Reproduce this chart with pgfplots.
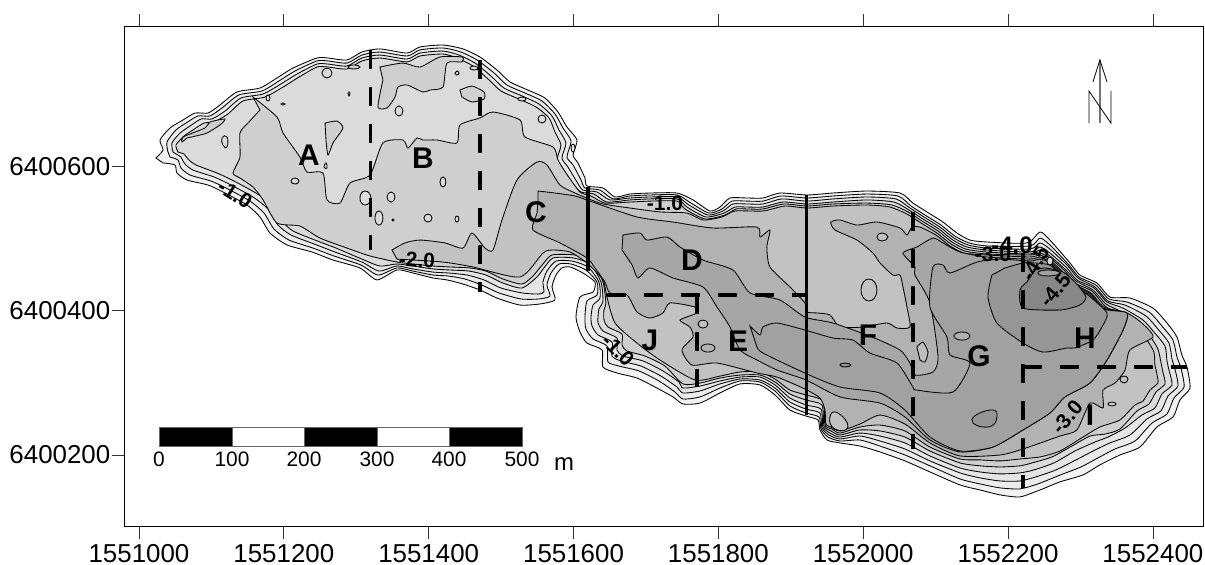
\documentclass[border=0pt]{standalone}
\usepackage{pgfplots}
\pgfplotsset{compat=1.18}
\usepackage{fontspec}
\setmainfont{Liberation Sans}
\newcommand\C[2]{\addplot[fill=#1,draw=black,line width=.85bp,smooth,tension=.4,forget plot] coordinates {#2} -- cycle;}
\newcommand\OV[2]{\addplot[fill=#1,draw=black,line width=.85bp,smooth cycle,tension=1,forget plot] coordinates {#2};}
\newcommand\DL[1]{\addplot[black,line width=3.3bp,dash pattern=on 19bp off 18bp,forget plot] coordinates {#1};}
\newcommand\SL[1]{\addplot[black,line width=3.3bp,forget plot] coordinates {#1};}
\newcommand\BX[2]{\addplot[fill=#1,draw=black!60,line width=.6bp,forget plot] coordinates {#2} -- cycle;}
\newcommand\T[5]{\node[rotate=#3,inner sep=0pt,font=\fontsize{#4}{#4}\selectfont] at ({#1bp-124.5bp},{526bp-#2bp}) {#5};}
\newcommand\D[5]{\node[rotate=#3,inner sep=0pt,font=\fontsize{#4}{#4}\selectfont\bfseries] at ({#1bp-124.5bp},{526bp-#2bp}) {#5};}
\newcommand\B[3]{\node[inner sep=0pt,font=\fontsize{30}{30}\selectfont\bfseries] at ({#1bp-124.5bp},{526bp-#2bp}) {#3};}
\begin{document}
\begin{tikzpicture}
\useasboundingbox (-124.5bp,-39bp) rectangle (1080.5bp,526bp);
\begin{axis}[
  at={(0,0)},anchor=south west,scale only axis,width=1079.5bp,height=499bp,
  x filter/.expression={1551000+(x-139)*1.38074},
  y filter/.expression={6400200+(455-y)*1.3865},
  xmin=1550979.98,xmax=1552470.5,ymin=6400101.56,ymax=6400793.4,
  scaled ticks=false,
  xtick={1551000,1551200,1551400,1551600,1551800,1552000,1552200,1552400},
  xticklabels={1551000,1551200,1551400,1551600,1551800,1552000,1552200,1552400},
  ytick={6400200,6400400,6400600},
  yticklabels={6400200,6400400,6400600},
  tick align=outside,major tick length=13bp,xtick pos=both,ytick pos=left,
  tick style={black!80,line width=.8bp},
  axis line style={black,line width=1bp},
  tick label style={font=\fontsize{26}{26}\selectfont},
  xticklabel style={inner sep=0pt,yshift=-5bp},
  yticklabel style={inner sep=0pt,xshift=-1bp},
  clip=false,
]
% shore
\C{black!5}{(156,158)(163,150)(160,140)(170,128)(183,120)(195,113)(208,113)(220,105)(237,92)(260,88)(277,78)(293,68)(317,58)(328,58)(347,60)(362,52)(380,49)(407,53)(420,47)(443,45)(463,49)(480,57)(497,70)(510,82)(528,90)(545,98)(558,112)(567,127)(577,140)(573,155)(578,163)(585,178)(587,186)(603,188)(615,197)(630,194)(650,193)(677,193)(693,200)(710,211)(720,207)(730,198)(747,198)(763,198)(780,193)(807,195)(833,193)(867,191)(900,193)(913,203)(927,212)(943,222)(957,233)(970,240)(987,242)(1027,243)(1040,232)(1050,240)(1070,263)(1080,275)(1097,283)(1110,297)(1130,298)(1153,308)(1167,323)(1177,337)(1182,355)(1187,367)(1190,388)(1180,400)(1173,417)(1157,427)(1140,447)(1120,455)(1100,465)(1083,475)(1060,482)(1040,490)(1020,497)(1000,495)(980,490)(960,485)(930,472)(905,461)(880,452)(860,446)(840,443)(827,440)(820,430)(818,420)(806,416)(790,410)(775,395)(760,385)(740,384)(720,393)(700,403)(683,404)(673,397)(657,388)(637,378)(617,373)(603,367)(602,350)(587,343)(580,332)(576,317)(580,297)(593,292)(595,282)(583,273)(570,267)(562,268)(556,275)(552,287)(555,300)(540,304)(520,305)(497,298)(480,290)(463,284)(447,280)(433,278)(413,273)(397,270)(377,280)(360,268)(333,260)(312,252)(287,245)(270,233)(260,217)(247,205)(223,192)(208,185)(187,180)(177,173)(175,165)(163,163)}
\C{black!8}{(168,152)(167,142)(176,130)(186,123)(198,116)(210,116)(222,108)(239,95)(262,91)(279,81)(295,71)(317,61)(328,61)(347,63)(362,55)(380,52)(407,56)(420,50)(443,48)(461,52)(477,60)(494,73)(507,85)(525,93)(542,101)(555,114)(563,128)(571,141)(567,157)(573,165)(581,180)(585,188)(600,190)(613,199)(630,196)(650,195)(677,195)(691,203)(709,213)(722,209)(732,201)(747,201)(763,201)(781,196)(807,198)(833,196)(867,194)(898,196)(911,206)(925,215)(941,225)(955,236)(969,243)(987,246)(1030,246)(1040,238)(1050,245)(1069,265)(1079,277)(1096,285)(1109,299)(1127,302)(1149,312)(1162,326)(1173,340)(1177,357)(1181,368)(1184,387)(1174,398)(1167,414)(1152,423)(1135,441)(1115,449)(1098,458)(1081,467)(1058,476)(1038,484)(1020,489)(1000,488)(980,484)(960,479)(930,466)(905,455)(880,446)(860,440)(840,441)(828,437)(821,429)(819,417)(806,413)(790,406)(775,391)(760,382)(740,381)(720,388)(700,397)(683,399)(675,392)(659,381)(639,371)(619,366)(608,362)(607,346)(593,339)(586,329)(585,317)(587,301)(597,295)(597,282)(586,270)(571,264)(559,264)(551,273)(547,285)(550,296)(539,299)(521,299)(499,293)(482,285)(465,279)(448,276)(433,275)(413,271)(397,268)(378,275)(361,265)(334,256)(313,248)(289,240)(274,229)(264,213)(250,201)(226,188)(211,181)(190,175)(181,168)(178,160)(170,157)}
\C{black!10}{(173,152)(172,143)(180,133)(190,126)(201,119)(212,119)(225,111)(241,98)(263,94)(281,84)(297,74)(317,64)(328,64)(347,66)(362,58)(380,55)(407,59)(420,53)(443,51)(459,55)(475,63)(491,76)(504,88)(522,96)(539,104)(552,116)(559,130)(566,143)(562,158)(568,167)(577,182)(583,190)(597,192)(610,200)(630,198)(650,197)(677,197)(689,205)(708,215)(723,211)(733,204)(747,204)(763,204)(782,199)(807,201)(833,199)(867,197)(896,199)(910,208)(924,217)(940,227)(954,238)(968,245)(987,248)(1030,249)(1040,243)(1050,249)(1068,266)(1078,278)(1095,287)(1108,301)(1125,305)(1146,316)(1158,329)(1169,343)(1172,359)(1175,369)(1178,386)(1168,396)(1161,411)(1147,419)(1130,435)(1110,443)(1095,450)(1078,459)(1056,470)(1036,477)(1020,481)(1000,481)(980,478)(960,473)(930,461)(905,449)(880,441)(860,436)(840,439)(829,435)(822,428)(820,413)(806,409)(790,402)(775,388)(760,380)(740,379)(720,384)(700,391)(683,393)(677,387)(661,376)(641,366)(621,361)(612,356)(612,342)(598,335)(592,326)(591,317)(593,305)(600,298)(599,282)(588,267)(572,261)(556,261)(547,271)(543,282)(544,292)(538,294)(522,293)(501,288)(484,280)(467,275)(449,273)(433,272)(413,269)(397,266)(379,271)(362,262)(335,252)(314,244)(291,235)(278,225)(268,209)(253,197)(229,184)(214,177)(193,170)(185,164)(181,157)}
\C{black!14}{(178,152)(176,145)(184,136)(193,130)(204,123)(214,122)(228,114)(243,101)(265,97)(283,87)(299,77)(317,67)(328,67)(347,69)(362,61)(380,58)(407,62)(420,56)(443,54)(457,58)(473,66)(488,79)(501,91)(519,99)(536,107)(549,118)(555,132)(561,145)(557,160)(563,169)(573,184)(581,192)(594,194)(607,202)(630,200)(650,199)(677,199)(687,207)(706,217)(724,213)(735,207)(747,207)(763,207)(783,202)(807,204)(833,202)(867,200)(894,202)(909,210)(923,219)(939,229)(953,240)(967,247)(987,250)(1030,252)(1040,247)(1050,253)(1067,268)(1077,280)(1094,288)(1107,302)(1123,308)(1143,320)(1154,332)(1165,346)(1167,361)(1169,370)(1172,385)(1162,394)(1155,408)(1142,415)(1125,428)(1108,437)(1095,442)(1075,451)(1054,463)(1034,470)(1020,473)(1000,474)(980,472)(960,468)(930,456)(905,443)(880,436)(860,433)(840,437)(830,433)(823,427)(821,409)(806,405)(790,398)(775,385)(760,377)(740,377)(720,381)(700,386)(683,388)(679,382)(663,371)(643,361)(623,356)(617,350)(617,338)(603,331)(598,323)(598,317)(599,309)(603,301)(601,282)(590,264)(573,258)(553,258)(544,268)(537,277)(522,288)(503,283)(486,275)(469,271)(450,270)(433,269)(413,266)(397,264)(380,266)(362,259)(336,248)(315,240)(293,231)(282,221)(272,205)(256,193)(232,180)(217,173)(196,165)(189,160)(184,154)}
% light-zone closed contours
\C{black!19}{(182,142)(183,137)(205,128)(210,122)(225,119)(220,125)(207,133)(200,135)(187,138)}
\OV{black!14}{(222,138)(227,137)(227,147)(223,145)}
\OV{black!14}{(322,73)(327,68)(332,73)(327,78)}
\OV{black!14}{(266,98)(268,95)(270,98)(268,101)}
\OV{black!14}{(281,104)(283,103)(285,104)(283,105)}
\OV{black!19}{(348,67)(354,65)(360,67)(354,69)}
\OV{black!19}{(348,94)(349,92)(350,94)(349,96)}
\C{black!19}{(380,67)(403,63)(420,67)(440,57)(462,57)(462,62)(447,63)(443,87)(430,90)(423,92)(407,85)(398,87)(395,97)(387,108)(378,107)(383,80)}
\OV{black!14}{(395,111)(399,106)(403,111)(399,116)}
\C{black!19}{(325,123)(337,121)(343,128)(333,143)(328,155)(326,140)}
\OV{black!14}{(455,73)(457,71)(459,73)(457,75)}
\OV{black!14}{(470,68)(474,66)(478,68)(474,70)}
\C{black!19}{(460,90)(472,86)(484,92)(484,99)(472,102)(462,97)}
\OV{black!14}{(518,99)(522,97)(526,99)(522,101)}
\OV{black!14}{(538,119)(542,115)(546,119)(542,123)}
\OV{black!14}{(517,143)(523,141)(521,146)}
\OV{black!10}{(571,148)(573,144)(575,148)(573,152)}
% depth zones
\C{black!19}{(253,97)(277,117)(283,133)(300,157)(307,172)(323,173)(327,200)(340,203)(350,183)(370,175)(383,143)(403,140)(408,148)(417,138)(423,140)(437,140)(457,143)(460,125)(480,118)(493,112)(520,120)(525,137)(553,147)(558,160)(566,173)(580,192)(591,196)(605,203)(630,202)(650,201)(677,201)(685,209)(705,219)(725,215)(736,209)(747,209)(763,209)(784,204)(807,206)(833,204)(867,203)(892,205)(908,212)(922,221)(938,231)(952,242)(966,249)(987,252)(1030,254)(1040,250)(1050,256)(1066,270)(1076,281)(1093,290)(1106,304)(1120,311)(1140,324)(1150,336)(1158,349)(1161,362)(1163,372)(1165,384)(1156,392)(1149,404)(1137,411)(1120,429)(1105,434)(1090,436)(1072,446)(1052,457)(1032,463)(1020,466)(1000,467)(980,466)(960,463)(930,451)(905,437)(880,431)(860,430)(840,435)(831,431)(824,426)(822,405)(806,400)(790,394)(775,382)(760,375)(740,375)(720,378)(700,383)(683,384)(665,366)(645,356)(627,351)(622,345)(622,334)(608,327)(604,320)(604,310)(606,303)(603,282)(592,261)(575,255)(552,255)(543,264)(533,276)(522,284)(503,279)(486,271)(470,268)(450,267)(433,266)(413,264)(397,262)(370,256)(347,248)(320,238)(300,226)(277,223)(263,200)(253,187)(240,178)(233,173)(240,157)(240,133)(248,123)(260,110)}
\OV{black!14}{(291,181)(295,178)(299,181)(295,184)}
\OV{black!14}{(324,167)(326,163)(327,168)}
\OV{black!14}{(360,198)(365,191)(371,198)(365,205)}
\OV{black!14}{(375,218)(379,211)(383,218)(379,225)}
\OV{black!14}{(387,197)(391,192)(395,197)(391,202)}
\OV{black!14}{(392,220)(393,219)(394,220)(393,221)}
\OV{black!14}{(424,218)(428,214)(432,218)(428,222)}
\OV{black!14}{(440,182)(443,177)(446,182)(443,187)}
\OV{black!14}{(455,219)(457,216)(459,219)(457,222)}
\C{black!24}{(392,250)(405,243)(420,240)(445,243)(463,248)(472,233)(485,248)(493,250)(502,220)(517,180)(537,162)(547,165)(560,185)(575,193)(589,199)(603,204)(630,208)(660,212)(687,213)(703,220)(722,217)(735,211)(763,211)(785,206)(807,208)(833,206)(867,205)(890,207)(907,214)(921,223)(937,233)(951,244)(965,251)(987,254)(1030,255)(1040,253)(1050,258)(1065,271)(1075,283)(1092,291)(1105,306)(1118,314)(1137,328)(1147,340)(1154,352)(1155,365)(1157,374)(1158,383)(1150,390)(1143,401)(1135,405)(1120,420)(1100,427)(1083,437)(1060,451)(1040,457)(1020,459)(1000,461)(980,460)(960,459)(930,447)(905,431)(880,425)(860,427)(840,433)(832,429)(825,425)(823,401)(806,395)(790,390)(775,379)(760,372)(740,372)(720,376)(695,380)(660,360)(637,343)(615,323)(607,297)(603,280)(587,263)(570,252)(552,250)(543,253)(520,277)(473,267)(443,262)(397,259)}
\OV{black!19}{(616,271)(617,267)(618,271)(617,275)}
\C{black!30}{(538,191)(555,193)(575,196)(590,201)(637,217)(673,222)(713,228)(757,227)(760,237)(770,230)(767,247)(770,267)(790,287)(805,303)(807,312)(817,313)(830,315)(840,327)(863,327)(887,323)(897,328)(910,327)(907,307)(903,287)(900,275)(893,275)(880,263)(873,253)(857,240)(835,230)(831,222)(840,220)(857,225)(877,222)(900,228)(907,235)(912,227)(920,227)(936,235)(950,246)(964,253)(987,255)(1030,257)(1040,255)(1050,260)(1064,273)(1074,284)(1091,293)(1104,307)(1127,313)(1142,323)(1153,337)(1130,350)(1125,370)(1115,383)(1103,390)(1103,408)(1090,403)(1077,430)(1060,436)(1023,449)(1000,455)(960,456)(930,443)(905,424)(880,415)(860,424)(840,431)(833,428)(826,424)(825,410)(820,398)(805,389)(777,377)(757,373)(717,363)(692,365)(682,350)(693,337)(690,327)(680,320)(697,313)(695,307)(670,303)(663,313)(650,318)(637,312)(627,295)(610,293)(605,282)(595,268)(587,258)(560,243)(533,230)(537,213)(538,200)}
\OV{black!24}{(830,417)(838,413)(848,427)(835,429)}
\OV{black!24}{(877,237)(882,233)(888,237)(882,241)}
\OV{black!24}{(861,290)(869,279)(877,290)(869,301)}
\OV{black!24}{(698,324)(703,320)(708,324)(703,328)}
\OV{black!24}{(1120,379)(1124,376)(1128,379)(1124,383)}
\OV{black!24}{(1108,404)(1112,402)(1116,404)(1112,406)}
\C{black!35}{(623,235)(640,233)(647,240)(667,237)(680,247)(703,260)(733,270)(750,293)(780,300)(805,317)(833,323)(872,337)(900,350)(910,363)(915,375)(933,372)(938,357)(930,303)(915,275)(915,267)(903,253)(917,247)(933,238)(943,243)(960,252)(987,257)(1030,259)(1040,257)(1050,262)(1064,274)(1074,285)(1091,294)(1103,308)(1127,313)(1123,330)(1107,360)(1090,383)(1065,397)(1050,413)(1023,430)(993,447)(960,452)(930,440)(905,417)(880,403)(840,397)(806,380)(777,370)(757,360)(740,350)(730,327)(717,307)(703,287)(673,278)(650,268)(638,278)(632,265)(622,250)}
\C{black!26}{(917,347)(923,342)(928,352)(925,362)(920,360)}
\OV{black!30}{(701,348)(708,344)(715,348)(708,352)}
\C{black!37}{(750,326)(760,335)(763,327)(777,323)(805,330)(833,338)(853,340)(870,353)(897,363)(913,387)(917,390)(953,392)(970,363)(950,355)(947,337)(930,307)(933,267)(943,265)(950,273)(977,262)(1000,259)(1030,261)(1040,259)(1050,263)(1062,275)(1073,286)(1090,295)(1103,309)(1127,313)(1123,330)(1107,360)(1090,383)(1065,397)(1050,413)(1023,430)(993,447)(960,451)(930,437)(905,410)(880,393)(840,387)(807,374)(763,353)(757,347)}
\OV{black!42}{(840,365)(845,363)(851,365)(845,367)}
\OV{black!31}{(954,336)(962,332)(970,336)(962,340)}
\OV{black!42}{(972,420)(990,410)(997,417)(988,427)}
\C{black!41}{(992,275)(988,297)(997,323)(1023,343)(1043,352)(1067,348)(1075,348)(1093,340)(1102,327)(1107,313)(1088,295)(1073,286)(1060,274)(1050,265)(1035,263)(1023,263)(1005,268)}
\C{black!47}{(1035,270)(1045,268)(1063,272)(1077,284)(1086,297)(1080,305)(1060,310)(1023,308)(1020,290)(1027,282)}
\OV{black!37}{(1038,273)(1048,270)(1060,273)(1048,276)}
\OV{black!14}{(1047,261)(1050,257)(1053,261)(1050,265)}
% zone dividers
\DL{(370.5,50)(370.5,250)}
\DL{(480,60)(480,292)}
\SL{(588,187)(588,271)}
\SL{(806.5,195)(806.5,415)}
\DL{(607,295)(806,295)}
\DL{(697,295)(697,387)}
\DL{(913,212)(913,449)}
\DL{(1023,253)(1023,488)}
\DL{(1023,367)(1187,367)}
% scale bar
\BX{black}{(159,427)(232,427)(232,446)(159,446)}
\BX{white}{(232,427)(304,427)(304,446)(232,446)}
\BX{black}{(304,427)(377,427)(377,446)(304,446)}
\BX{white}{(377,427)(449,427)(449,446)(377,446)}
\BX{black}{(449,427)(522,427)(522,446)(449,446)}
% north arrow
\addplot[black!55,line width=1.3bp,forget plot] coordinates {(1100,60)(1100,123)};
\addplot[black,line width=.8bp,forget plot] coordinates {(1093,82)(1100,60)(1107,82)};
\addplot[black,line width=.8bp,forget plot] coordinates {(1089,123)(1089,91)(1111,123)(1111,91)};
\end{axis}
\T{159}{459}{0}{21}{0}
\T{232}{459}{0}{21}{100}
\T{304}{459}{0}{21}{200}
\T{377}{459}{0}{21}{300}
\T{449}{459}{0}{21}{400}
\T{522}{459}{0}{21}{500}
\T{564}{464}{0}{24}{m}
\B{309}{155}{A}
\B{423}{158}{B}
\B{536}{212}{C}
\B{692}{260}{D}
\B{738}{341}{E}
\B{868}{335}{F}
\B{979}{356}{G}
\B{1085}{338}{H}
\B{1090}{415}{I}
\B{650}{340}{J}
\D{235}{194}{-32}{21}{-1.0}
\D{665}{203}{0}{21}{-1.0}
\D{417}{260}{-2}{21}{-2.0}
\D{618}{350}{-45}{21}{-1.0}
\D{1067}{417}{50}{21}{-3.0}
\D{993}{254}{0}{21}{-3.0}
\D{1012}{245}{0}{24}{-4.0}
\D{1035}{263}{60}{21}{-4.5}
\D{1055}{290}{50}{21}{-4.5}
\end{tikzpicture}
\end{document}
